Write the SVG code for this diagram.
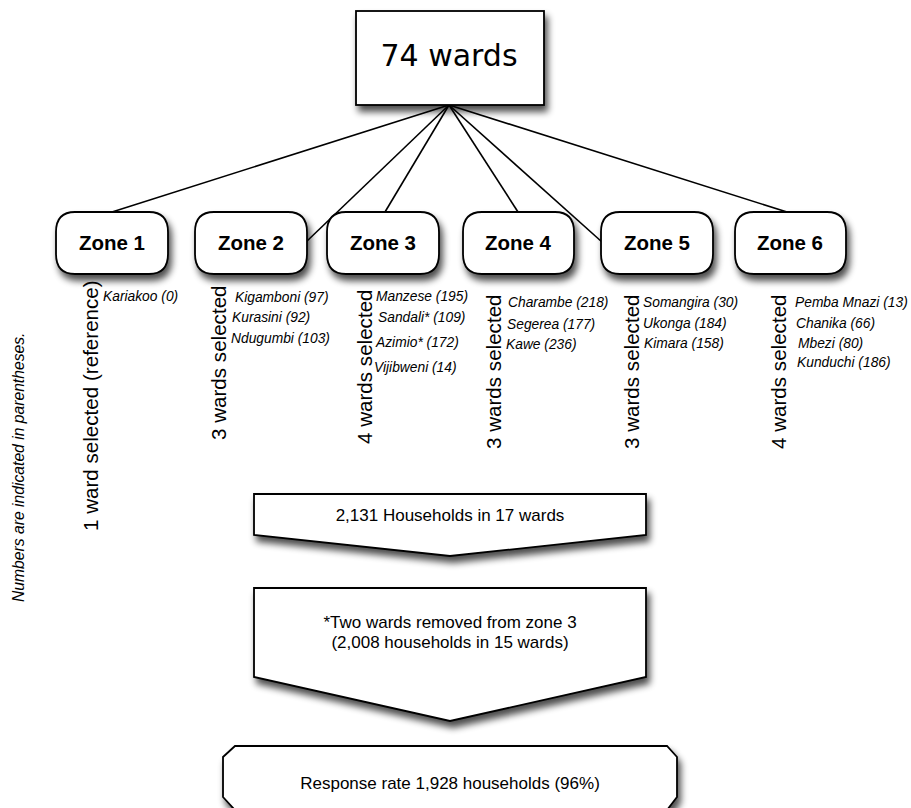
<svg xmlns="http://www.w3.org/2000/svg" width="911" height="808" viewBox="0 0 911 808">
<defs>
<filter id="sh" x="-20%" y="-20%" width="150%" height="160%">
<feGaussianBlur in="SourceAlpha" stdDeviation="3.5"/>
<feOffset dx="3" dy="6" result="b"/>
<feComponentTransfer><feFuncA type="linear" slope="0.7"/></feComponentTransfer>
<feMerge><feMergeNode/><feMergeNode in="SourceGraphic"/></feMerge>
</filter>
</defs>
<style>
.shape{fill:#fff;stroke:#000;stroke-width:1.8;stroke-linejoin:miter}
.zt{font-family:"Liberation Sans",Arial,sans-serif;font-weight:bold;font-size:20.5px;text-anchor:middle;fill:#000}
.vt{font-family:"Liberation Sans",Arial,sans-serif;font-size:20.6px;fill:#000}
.wt{font-family:"Liberation Sans",Arial,sans-serif;font-style:italic;font-size:13.8px;fill:#000}
.bt{font-family:"Liberation Sans",Arial,sans-serif;font-size:17px;text-anchor:middle;fill:#000}
.conn{stroke:#000;stroke-width:1.6;fill:none}
</style>
<rect width="911" height="808" fill="#fff"/>

<g id="connectors">
<line class="conn" x1="449" y1="105" x2="112" y2="212"/>
<line class="conn" x1="449" y1="105" x2="306" y2="242"/>
<line class="conn" x1="449" y1="105" x2="385" y2="212"/>
<line class="conn" x1="449" y1="105" x2="518" y2="212"/>
<line class="conn" x1="449" y1="105" x2="602" y2="242"/>
<line class="conn" x1="449" y1="105" x2="787" y2="212"/>
</g>

<g id="top">
<rect class="shape" filter="url(#sh)" x="356" y="11" width="188" height="94"/>
<text x="449" y="66" style="font-family:'DejaVu Sans',sans-serif;font-size:30px;text-anchor:middle">74 wards</text>
</g>

<g id="zone1">
<path class="shape" filter="url(#sh)" d="M75,212 H149 Q168,212 168,232 V254 Q168,274 149,274 H75 Q56,274 56,254 V232 Q56,212 75,212 Z"/>
<text class="zt" x="112" y="250">Zone 1</text>
</g>
<g id="zone2">
<path class="shape" filter="url(#sh)" d="M214,212 H288 Q307,212 307,232 V254 Q307,274 288,274 H214 Q195,274 195,254 V232 Q195,212 214,212 Z"/>
<text class="zt" x="251" y="250">Zone 2</text>
</g>
<g id="zone3">
<path class="shape" filter="url(#sh)" d="M346,212 H420 Q439,212 439,232 V254 Q439,274 420,274 H346 Q327,274 327,254 V232 Q327,212 346,212 Z"/>
<text class="zt" x="383" y="250">Zone 3</text>
</g>
<g id="zone4">
<path class="shape" filter="url(#sh)" d="M482,212 H555 Q574,212 574,232 V254 Q574,274 555,274 H482 Q463,274 463,254 V232 Q463,212 482,212 Z"/>
<text class="zt" x="518" y="250">Zone 4</text>
</g>
<g id="zone5">
<path class="shape" filter="url(#sh)" d="M620,212 H694 Q713,212 713,232 V254 Q713,274 694,274 H620 Q601,274 601,254 V232 Q601,212 620,212 Z"/>
<text class="zt" x="657" y="250">Zone 5</text>
</g>
<g id="zone6">
<path class="shape" filter="url(#sh)" d="M754,212 H827 Q846,212 846,232 V254 Q846,274 827,274 H754 Q735,274 735,254 V232 Q735,212 754,212 Z"/>
<text class="zt" x="790" y="250">Zone 6</text>
</g>

<g id="labels">
<text class="vt" transform="translate(98,531) rotate(-90)">1 ward selected (reference)</text>
<text class="vt" transform="translate(226,440) rotate(-90)">3 wards selected</text>
<text class="vt" transform="translate(372,444) rotate(-90)">4 wards selected</text>
<text class="vt" transform="translate(501,449) rotate(-90)">3 wards selected</text>
<text class="vt" transform="translate(639,449) rotate(-90)">3 wards selected</text>
<text class="vt" transform="translate(786,449) rotate(-90)">4 wards selected</text>
<text class="wt" transform="translate(24,602) rotate(-90)" style="font-size:15.7px">Numbers are indicated in parentheses.</text>

<text class="wt" x="103" y="301">Kariakoo (0)</text>

<text class="wt" x="235" y="302">Kigamboni (97)</text>
<text class="wt" x="232" y="322">Kurasini (92)</text>
<text class="wt" x="231" y="343">Ndugumbi (103)</text>

<text class="wt" x="376" y="301">Manzese (195)</text>
<text class="wt" x="378" y="322">Sandali* (109)</text>
<text class="wt" x="376" y="347">Azimio* (172)</text>
<text class="wt" x="374" y="372">Vijibweni (14)</text>

<text class="wt" x="508" y="307">Charambe (218)</text>
<text class="wt" x="507" y="329">Segerea (177)</text>
<text class="wt" x="506" y="349">Kawe (236)</text>

<text class="wt" x="643" y="307">Somangira (30)</text>
<text class="wt" x="643" y="328">Ukonga (184)</text>
<text class="wt" x="644" y="348">Kimara (158)</text>

<text class="wt" x="795" y="307">Pemba Mnazi (13)</text>
<text class="wt" x="796" y="328">Chanika (66)</text>
<text class="wt" x="798" y="348">Mbezi (80)</text>
<text class="wt" x="797" y="367">Kunduchi (186)</text>
</g>

<g id="households">
<path class="shape" filter="url(#sh)" d="M254,494 H646 V535 L450,556 L254,535 Z"/>
<text class="bt" x="450" y="521">2,131 Households in 17 wards</text>
</g>
<g id="removed">
<path class="shape" filter="url(#sh)" d="M254,588 H646 V677 L450,721 L254,677 Z"/>
<text class="bt" x="450" y="628">*Two wards removed from zone 3</text>
<text class="bt" x="450" y="648">(2,008 households in 15 wards)</text>
</g>
<g id="response">
<path class="shape" filter="url(#sh)" d="M235,746 H667 L677,757 V797 L667,810 H235 L223,797 V757 Z"/>
<text class="bt" x="450" y="789">Response rate 1,928 households (96%)</text>
</g>
</svg>
